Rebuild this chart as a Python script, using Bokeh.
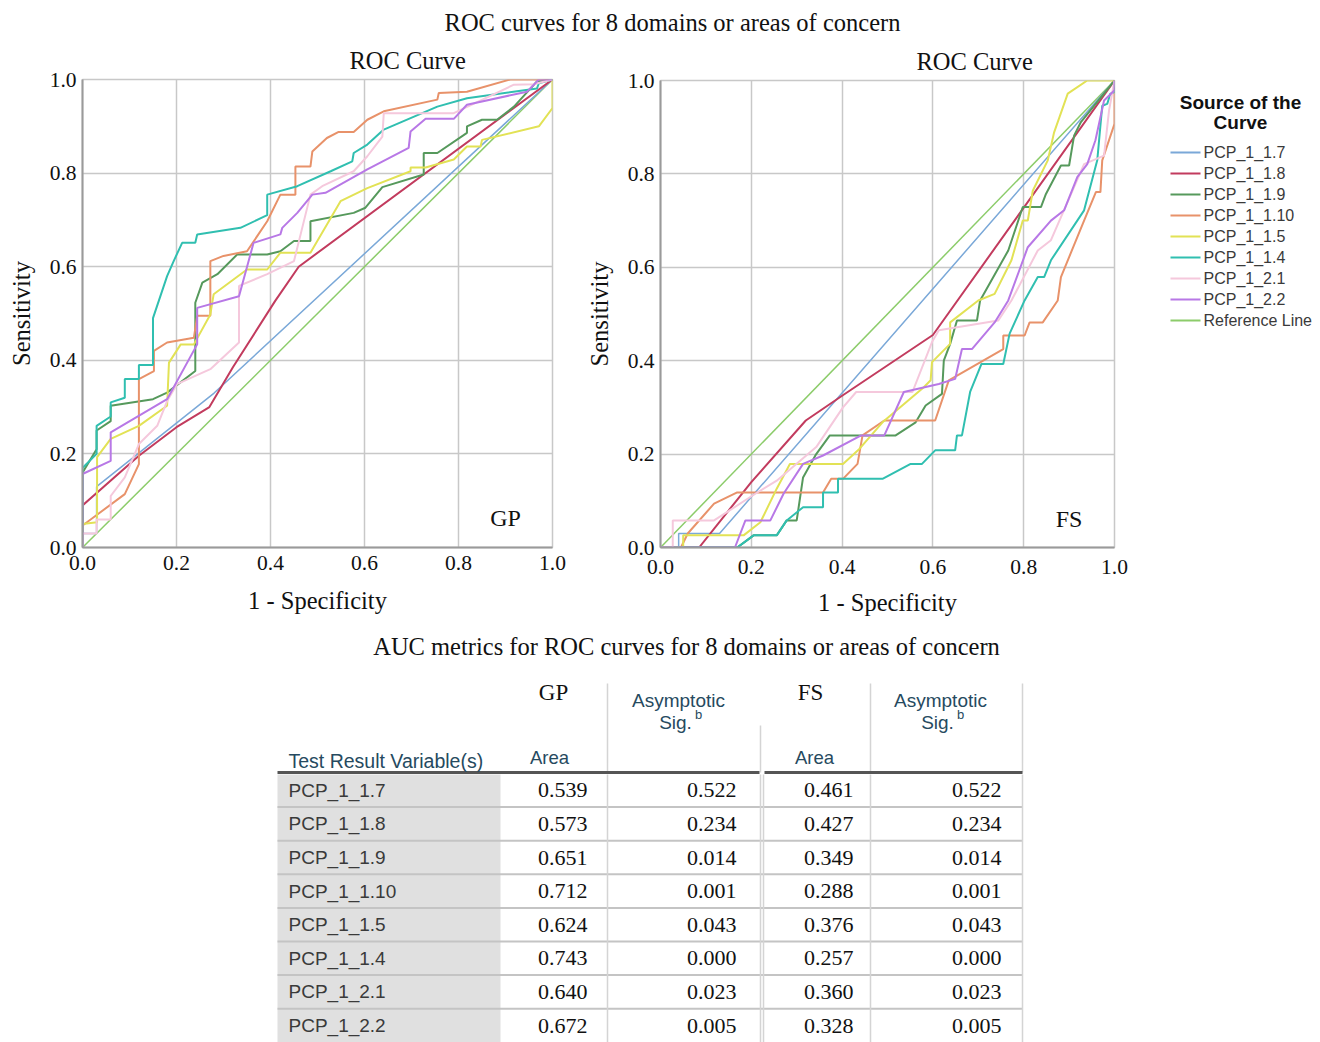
from bokeh.plotting import figure
from bokeh.layouts import column, row
from bokeh.models import Range1d, FixedTicker, PrintfTickFormatter, Label
from bokeh.core.properties import value
from bokeh.embed import file_html
from bokeh.resources import INLINE

SERIF = "Liberation Serif"
SANS = "Liberation Sans"

# ---------------- data ----------------
main_title = "ROC curves for 8 domains or areas of concern"
table_title = "AUC metrics for ROC curves for 8 domains or areas of concern"
legend_title = ["Source of the", "Curve"]

series_names = ["PCP_1_1.7", "PCP_1_1.8", "PCP_1_1.9", "PCP_1_1.10",
                "PCP_1_1.5", "PCP_1_1.4", "PCP_1_2.1", "PCP_1_2.2"]
series_colors = ["#7aa8d8", "#c23b5e", "#56995c", "#e8926a",
                 "#e2e255", "#30bfb0", "#f5c8dc", "#b878e6"]
ref_name = "Reference Line"
ref_color = "#8ccc6a"
ref_x = [0.0, 1.0]
ref_y = [0.0, 1.0]

tick_values = [0.0, 0.2, 0.4, 0.6, 0.8, 1.0]

# GP panel
gp_x_17 = [0, 0, 0.03, 0.03, 0.28, 1]
gp_y_17 = [0, 0.03, 0.03, 0.13, 0.33, 1]
gp_x_18 = [0, 0, 0.12, 0.2, 0.27, 0.32, 0.41, 0.46, 1]
gp_y_18 = [0, 0.09, 0.196, 0.257, 0.3, 0.385, 0.527, 0.6, 1]
gp_x_19 = [0, 0, 0.03, 0.03, 0.06, 0.06, 0.15, 0.18, 0.24, 0.24, 0.255, 0.287, 0.329, 0.393,
           0.421, 0.45, 0.485, 0.485, 0.577, 0.602, 0.638, 0.726, 0.726, 0.755, 0.818, 0.818,
           0.85, 0.882, 0.918, 0.967, 1]
gp_y_19 = [0, 0.16, 0.21, 0.25, 0.27, 0.303, 0.317, 0.331, 0.377, 0.523, 0.566, 0.584, 0.626,
           0.626, 0.633, 0.655, 0.655, 0.697, 0.715, 0.726, 0.77, 0.797, 0.843, 0.843, 0.886,
           0.9, 0.914, 0.914, 0.942, 0.996, 1]
gp_x_110 = [0, 0, 0.09, 0.12, 0.12, 0.152, 0.152, 0.18, 0.237, 0.244, 0.272, 0.272, 0.30, 0.35,
            0.393, 0.421, 0.453, 0.453, 0.485, 0.489, 0.52, 0.545, 0.577, 0.606, 0.641, 0.755,
            0.758, 0.818, 0.91, 1]
gp_y_110 = [0, 0.047, 0.114, 0.178, 0.36, 0.377, 0.42, 0.438, 0.448, 0.495, 0.495, 0.612, 0.623,
            0.633, 0.697, 0.754, 0.754, 0.814, 0.814, 0.846, 0.875, 0.888, 0.888, 0.914, 0.932,
            0.957, 0.971, 0.974, 1, 1]
gp_x_15 = [0, 0, 0.031, 0.031, 0.06, 0.12, 0.18, 0.184, 0.209, 0.237, 0.272, 0.279, 0.35, 0.393,
           0.421, 0.485, 0.549, 0.606, 0.698, 0.698, 0.73, 0.79, 0.818, 0.847, 0.85, 0.971, 1, 1]
gp_y_15 = [0, 0.05, 0.054, 0.193, 0.232, 0.26, 0.303, 0.395, 0.434, 0.434, 0.498, 0.541, 0.594,
           0.594, 0.63, 0.63, 0.74, 0.768, 0.804, 0.812, 0.812, 0.829, 0.857, 0.857, 0.871, 0.9,
           0.939, 1]
gp_x_14 = [0, 0, 0.03, 0.03, 0.06, 0.06, 0.09, 0.09, 0.12, 0.12, 0.15, 0.15, 0.18, 0.194, 0.212,
           0.24, 0.244, 0.336, 0.393, 0.393, 0.457, 0.528, 0.574, 0.577, 0.606, 0.641, 0.755,
           0.818, 0.967, 0.971, 1]
gp_y_14 = [0, 0.17, 0.2, 0.26, 0.28, 0.31, 0.32, 0.36, 0.36, 0.39, 0.39, 0.49, 0.58, 0.612, 0.651,
           0.651, 0.669, 0.683, 0.71, 0.754, 0.772, 0.804, 0.825, 0.843, 0.861, 0.893, 0.942,
           0.96, 0.981, 0.992, 1]
gp_x_21 = [0, 0, 0.03, 0.03, 0.06, 0.06, 0.09, 0.12, 0.159, 0.18, 0.201, 0.272, 0.333, 0.333,
           0.393, 0.45, 0.485, 0.51, 0.577, 0.606, 0.638, 0.641, 0.79, 0.918, 0.96, 1]
gp_y_21 = [0, 0.03, 0.03, 0.06, 0.06, 0.11, 0.15, 0.221, 0.26, 0.313, 0.349, 0.381, 0.438, 0.559,
           0.584, 0.612, 0.754, 0.772, 0.804, 0.836, 0.878, 0.928, 0.928, 0.989, 0.99, 1]
gp_x_22 = [0, 0, 0.06, 0.06, 0.18, 0.244, 0.244, 0.333, 0.364, 0.421, 0.425, 0.457, 0.489, 0.517,
           0.606, 0.694, 0.698, 0.73, 0.79, 0.818, 0.946, 0.971, 1]
gp_y_22 = [0, 0.157, 0.185, 0.246, 0.317, 0.434, 0.512, 0.537, 0.651, 0.669, 0.683, 0.715, 0.754,
           0.758, 0.808, 0.854, 0.889, 0.916, 0.916, 0.946, 0.974, 1, 1]

# FS panel
fs_x_17 = [0, 0.04, 0.04, 0.13, 1]
fs_y_17 = [0, 0, 0.03, 0.03, 1]
fs_x_18 = [0, 0.085, 0.2, 0.32, 0.40, 0.6, 1]
fs_y_18 = [0, 0, 0.14, 0.272, 0.325, 0.455, 1]
fs_x_19 = [0, 0.169, 0.205, 0.256, 0.278, 0.3, 0.314, 0.343, 0.373, 0.482, 0.518, 0.562, 0.584,
           0.62, 0.624, 0.638, 0.653, 0.697, 0.704, 0.766, 0.798, 0.838, 0.849, 0.882, 0.9,
           0.911, 0.926, 1]
fs_y_19 = [0, 0, 0.026, 0.026, 0.058, 0.058, 0.15, 0.2, 0.24, 0.24, 0.24, 0.268, 0.304, 0.329,
           0.4, 0.436, 0.486, 0.486, 0.529, 0.636, 0.729, 0.729, 0.757, 0.818, 0.818, 0.882,
           0.911, 1]
fs_x_110 = [0, 0.045, 0.06, 0.118, 0.169, 0.358, 0.376, 0.402, 0.434, 0.445, 0.493, 0.605, 0.635,
            0.755, 0.755, 0.802, 0.813, 0.842, 0.875, 0.882, 0.933, 0.959, 0.969, 0.973, 1, 1]
fs_y_110 = [0, 0, 0.03, 0.094, 0.118, 0.118, 0.147, 0.147, 0.179, 0.24, 0.272, 0.272, 0.358,
            0.425, 0.454, 0.454, 0.482, 0.482, 0.529, 0.579, 0.7, 0.761, 0.761, 0.829, 0.907, 1]
fs_x_15 = [0, 0.05, 0.05, 0.183, 0.22, 0.256, 0.285, 0.402, 0.438, 0.489, 0.58, 0.595, 0.598,
           0.638, 0.638, 0.7, 0.736, 0.773, 0.798, 0.809, 0.82, 0.853, 0.867, 0.897, 0.94, 1]
fs_y_15 = [0, 0, 0.026, 0.026, 0.054, 0.126, 0.179, 0.179, 0.211, 0.268, 0.343, 0.358, 0.397,
           0.436, 0.482, 0.529, 0.543, 0.615, 0.7, 0.7, 0.764, 0.829, 0.889, 0.972, 1, 1]
fs_x_14 = [0, 0.169, 0.205, 0.256, 0.278, 0.314, 0.358, 0.358, 0.391, 0.391, 0.489, 0.551, 0.576,
           0.605, 0.649, 0.653, 0.664, 0.682, 0.707, 0.755, 0.769, 0.802, 0.831, 0.845, 0.86,
           0.933, 0.962, 0.973, 0.984, 0.991, 1, 1]
fs_y_14 = [0, 0, 0.026, 0.026, 0.058, 0.086, 0.086, 0.118, 0.118, 0.147, 0.147, 0.179, 0.179,
           0.208, 0.208, 0.24, 0.24, 0.333, 0.393, 0.393, 0.458, 0.529, 0.579, 0.579, 0.615,
           0.722, 0.829, 0.946, 0.95, 0.972, 0.975, 1]
fs_x_21 = [0, 0.027, 0.027, 0.118, 0.22, 0.256, 0.343, 0.402, 0.431, 0.555, 0.598, 0.613, 0.744,
           0.773, 0.831, 0.86, 0.933, 0.977, 0.988, 1]
fs_y_21 = [0, 0, 0.058, 0.058, 0.122, 0.143, 0.215, 0.3, 0.333, 0.333, 0.44, 0.465, 0.486, 0.529,
           0.636, 0.658, 0.821, 0.839, 0.936, 1]
fs_x_22 = [0, 0.164, 0.187, 0.242, 0.271, 0.314, 0.358, 0.442, 0.493, 0.536, 0.613, 0.649, 0.664,
           0.686, 0.736, 0.766, 0.809, 0.86, 0.889, 0.918, 0.94, 0.958, 0.977, 1, 1]
fs_y_22 = [0, 0, 0.058, 0.058, 0.115, 0.179, 0.197, 0.24, 0.24, 0.333, 0.35, 0.361, 0.425, 0.425,
           0.482, 0.529, 0.643, 0.7, 0.722, 0.793, 0.821, 0.872, 0.957, 0.979, 1]

gp_curves = [(gp_x_17, gp_y_17), (gp_x_18, gp_y_18), (gp_x_19, gp_y_19), (gp_x_110, gp_y_110),
             (gp_x_15, gp_y_15), (gp_x_14, gp_y_14), (gp_x_21, gp_y_21), (gp_x_22, gp_y_22)]
fs_curves = [(fs_x_17, fs_y_17), (fs_x_18, fs_y_18), (fs_x_19, fs_y_19), (fs_x_110, fs_y_110),
             (fs_x_15, fs_y_15), (fs_x_14, fs_y_14), (fs_x_21, fs_y_21), (fs_x_22, fs_y_22)]

# AUC table
gp_area = [0.539, 0.573, 0.651, 0.712, 0.624, 0.743, 0.640, 0.672]
gp_sig = [0.522, 0.234, 0.014, 0.001, 0.043, 0.000, 0.023, 0.005]
fs_area = [0.461, 0.427, 0.349, 0.288, 0.376, 0.257, 0.360, 0.328]
fs_sig = [0.522, 0.234, 0.014, 0.001, 0.043, 0.000, 0.023, 0.005]

GRID = "#c8c8c8"
AXIS = "#9a9a9a"
INK = "#111111"


def plain(p):
    p.xaxis.visible = False
    p.yaxis.visible = False
    p.xgrid.visible = False
    p.ygrid.visible = False
    p.outline_line_color = None
    p.background_fill_color = "white"
    p.border_fill_color = "white"


def bare_fig(w, h, xr, yr):
    p = figure(width=w, height=h, x_range=Range1d(*xr), y_range=Range1d(*yr),
               output_backend="svg", toolbar_location=None, frame_align=False,
               min_border_left=0, min_border_right=0, min_border_top=0, min_border_bottom=0)
    plain(p)
    return p


PAGE_W = 1316

# ---------------- top title ----------------
top = bare_fig(PAGE_W, 38, (0, PAGE_W), (38, 0))
top.text(x=[672], y=[22], text=[main_title], text_font=value(SERIF), text_font_size="24.5px",
         text_align="center", text_baseline="middle", text_color=INK)


# ---------------- ROC panels ----------------
def make_roc(curves, tag, width, bl, br, bt, bb, title_off, tick_sd, label_sd):
    p = figure(width=width, height=590, x_range=Range1d(0, 1), y_range=Range1d(0, 1),
               output_backend="svg", toolbar_location=None, frame_align=False,
               min_border_left=bl, min_border_right=br, min_border_top=bt, min_border_bottom=bb,
               title="ROC Curve", x_axis_label="1 - Specificity", y_axis_label="Sensitivity")
    p.title.text_font = SERIF
    p.title.text_font_size = "24.5px"
    p.title.text_font_style = "normal"
    p.title.text_color = INK
    p.title.align = "left"
    p.title.offset = title_off
    p.title.standoff = 12
    p.background_fill_color = "white"
    p.border_fill_color = "white"
    p.outline_line_color = GRID
    p.outline_line_width = 1.5
    for ax in (p.xaxis[0], p.yaxis[0]):
        ax.ticker = FixedTicker(ticks=tick_values)
        ax.formatter = PrintfTickFormatter(format="%.1f")
        ax.major_label_text_font = SERIF
        ax.major_label_text_font_size = "21.5px"
        ax.major_label_text_color = INK
        ax.axis_label_text_font = SERIF
        ax.axis_label_text_font_size = "24.5px"
        ax.axis_label_text_font_style = "normal"
        ax.axis_label_text_color = INK
        ax.major_tick_out = 0
        ax.major_tick_in = 0
        ax.minor_tick_out = 0
        ax.minor_tick_in = 0
        ax.axis_line_color = AXIS
        ax.axis_line_width = 2
    p.xaxis[0].major_label_standoff = tick_sd
    p.xaxis[0].axis_label_standoff = label_sd
    p.yaxis[0].major_label_standoff = 6
    p.yaxis[0].axis_label_standoff = 12
    p.xgrid.ticker = FixedTicker(ticks=tick_values)
    p.ygrid.ticker = FixedTicker(ticks=tick_values)
    p.xgrid.grid_line_color = GRID
    p.ygrid.grid_line_color = GRID
    p.xgrid.grid_line_width = 1.5
    p.ygrid.grid_line_width = 1.5

    p.line(ref_x, ref_y, line_color=ref_color, line_width=1.5)
    for (xs, ys), col, name in zip(curves, series_colors, series_names):
        lw = 1.5 if name == "PCP_1_1.7" else 2
        p.line(xs, ys, line_color=col, line_width=lw)
    p.add_layout(Label(x=0.9, y=0.062, text=tag, text_font=SERIF, text_font_size="24px",
                       text_align="center", text_baseline="middle", text_color=INK))
    return p


left_p = make_roc(gp_curves, "GP", width=582, bl=82, br=30, bt=40, bb=81,
                  title_off=267, tick_sd=8, label_sd=14)
right_p = make_roc(fs_curves, "FS", width=568, bl=74, br=36, bt=42, bb=80,
                   title_off=256, tick_sd=12, label_sd=12)
right_p.frame_height = 467

# ---------------- legend panel ----------------
LEG_W = PAGE_W - 1150
leg = bare_fig(LEG_W, 590, (1150, PAGE_W), (628, 38))
leg.text(x=[1240, 1240], y=[102, 122], text=legend_title, text_font=value(SANS),
         text_font_size="19px", text_font_style="bold", text_align="center",
         text_baseline="middle", text_color=INK)
leg_names = series_names + [ref_name]
leg_colors = series_colors + [ref_color]
leg_y = [152 + 21 * i for i in range(len(leg_names))]
leg.segment(x0=[1170] * len(leg_names), x1=[1200] * len(leg_names), y0=leg_y, y1=leg_y,
            line_color=leg_colors, line_width=2)
leg.text(x=[1203] * len(leg_names), y=leg_y, text=leg_names, text_font=value(SANS),
         text_font_size="16px", text_align="left", text_baseline="middle", text_color="#3a3a3a")

# ---------------- table ----------------
TAB_BOTTOM = 1042
tab = bare_fig(PAGE_W, TAB_BOTTOM - 628, (0, PAGE_W), (TAB_BOTTOM, 628))
tab.text(x=[686], y=[646], text=[table_title], text_font=value(SERIF), text_font_size="24.5px",
         text_align="center", text_baseline="middle", text_color=INK)

n = len(series_names)
row_h = 33.6
row_top = [773 + row_h * i for i in range(n)]
row_mid = [t + row_h / 2 for t in row_top]
HDR = "#264a60"

tab.quad(left=[277], right=[500], top=[774], bottom=[TAB_BOTTOM], fill_color="#e0e0e0",
         line_color=None)
sep_y = [t + row_h for t in row_top[:-1]]
tab.segment(x0=[277] * len(sep_y), x1=[1022] * len(sep_y), y0=sep_y, y1=sep_y,
            line_color="#c4c4c4", line_width=2)
tab.segment(x0=[607, 870, 1022, 760, 763, 607, 870, 1022, 760],
            x1=[607, 870, 1022, 760, 763, 607, 870, 1022, 760],
            y0=[774, 774, 774, 774, 774, 683, 683, 683, 725],
            y1=[TAB_BOTTOM] * 5 + [772, 772, 772, 772],
            line_color="#d4d4d4", line_width=1.5)
tab.segment(x0=[277, 764], x1=[759, 1022], y0=[772, 772], y1=[772, 772],
            line_color="#555555", line_width=3)

tab.text(x=[553, 810], y=[692, 692], text=["GP", "FS"], text_font=value(SERIF),
         text_font_size="23px", text_align="center", text_baseline="middle", text_color=INK)
tab.text(x=[678, 940], y=[700, 700], text=["Asymptotic", "Asymptotic"], text_font=value(SANS),
         text_font_size="19px", text_align="center", text_baseline="middle", text_color=HDR)
tab.text(x=[675, 937], y=[722, 722], text=["Sig.", "Sig."], text_font=value(SANS),
         text_font_size="19px", text_align="center", text_baseline="middle", text_color=HDR)
tab.text(x=[698, 960], y=[714, 714], text=["b", "b"], text_font=value(SANS),
         text_font_size="13px", text_align="center", text_baseline="middle", text_color=HDR)
tab.text(x=[549, 814], y=[757, 757], text=["Area", "Area"], text_font=value(SANS),
         text_font_size="18.5px", text_align="center", text_baseline="middle", text_color=HDR)
tab.text(x=[288], y=[760], text=["Test Result Variable(s)"], text_font=value(SANS),
         text_font_size="19.5px", text_align="left", text_baseline="middle", text_color=HDR)

tab.text(x=[288] * n, y=row_mid, text=series_names, text_font=value(SANS),
         text_font_size="19px", text_align="left", text_baseline="middle", text_color="#3a3a3a")
cols = [(gp_area, 587), (gp_sig, 736), (fs_area, 853), (fs_sig, 1001)]
for vals, xr in cols:
    tab.text(x=[xr] * n, y=row_mid, text=[f"{v:.3f}" for v in vals], text_font=value(SERIF),
             text_font_size="22px", text_align="right", text_baseline="middle",
             text_color=INK)

layout = column(top, row(left_p, right_p, leg, spacing=0), tab, spacing=0)

open("out.html", "w").write(file_html(layout, INLINE))
